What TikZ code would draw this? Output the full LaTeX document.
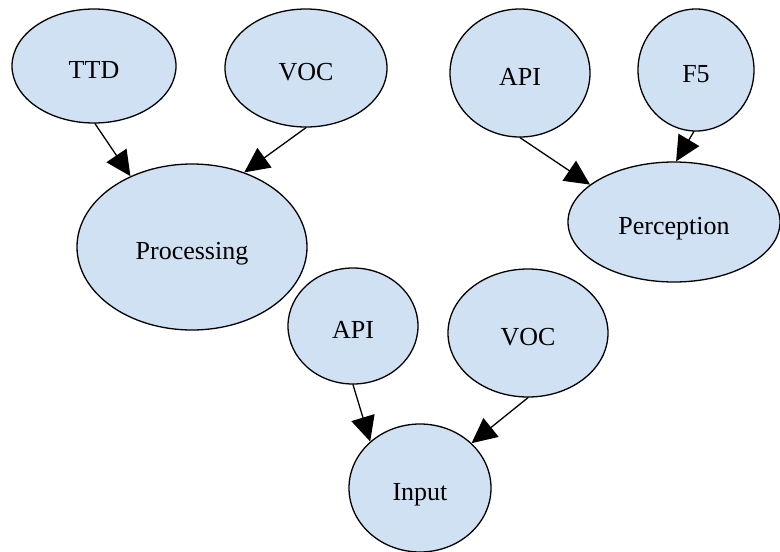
\documentclass[tikz,border=0pt]{standalone}
\usepackage{fontspec}
\setmainfont{Liberation Serif}
\usetikzlibrary{shapes.geometric,arrows.meta}
\definecolor{nodeblue}{RGB}{207,225,242}
\begin{document}
\begin{tikzpicture}[x=1pt, y=-1pt, line width=1.3pt, line cap=round, line join=round,
		>={Triangle[length=25pt, width=24pt]},
		blob/.style={ellipse, draw, fill=nodeblue, inner sep=0pt, text height=24pt, text depth=0pt, font=\fontsize{26}{30}\selectfont}]
		\useasboundingbox (0,0) rectangle (780,552);
		% upper left group
		\node[blob, minimum width=164pt, minimum height=114pt] (ttd) at (94,66) {TTD};
		\node[blob, minimum width=162pt, minimum height=118pt] (vocA) at (306,68) {VOC};
		\node[blob, minimum width=230pt, minimum height=166pt] (proc) at (192,247) {Processing};
		% upper right group
		\node[blob, minimum width=140pt, minimum height=128pt] (apiA) at (520,73) {API};
		\node[blob, minimum width=116pt, minimum height=122pt] (ffive) at (696,70) {F5};
		\node[blob, minimum width=212pt, minimum height=120pt] (perc) at (674,222) {Perception};
		% lower group
		\node[blob, minimum width=130pt, minimum height=116pt] (apiB) at (353,326) {API};
		\node[blob, minimum width=160pt, minimum height=128pt] (vocB) at (528,333) {VOC};
		\node[blob, minimum width=142pt, minimum height=128pt] (inp) at (420,488) {Input};
		\draw[->] (ttd.271) -- (proc.131);
		\draw[->] (vocA.270) -- (proc.55);
		\draw[->] (apiA.270) -- (perc.156);
		\draw[->] (ffive.268) -- (perc.88);
		\draw[->] (apiB.270) -- (inp.137);
		\draw[->] (vocB.270) -- (inp.41);
\end{tikzpicture}
\end{document}
